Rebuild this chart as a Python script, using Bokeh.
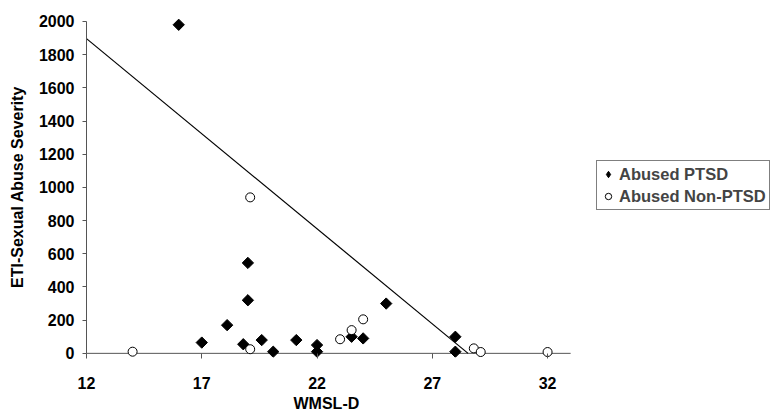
import numpy as np
from bokeh.plotting import figure
from bokeh.models import Range1d, Legend, LegendItem, FixedTicker, Title
from bokeh.embed import file_html
from bokeh.resources import INLINE

# Abused PTSD (filled diamonds)
ptsd_x = [16, 17, 18.1, 19, 19, 18.8, 19.6, 20.1, 21.1, 22, 22, 23.5, 24, 25, 28, 28]
ptsd_y = [1980, 65, 170, 545, 320, 55, 80, 10, 80, 50, 10, 100, 90, 300, 100, 10]

# Abused Non-PTSD (open circles)
non_x = [14, 19.1, 19.1, 23, 23.5, 24, 28.8, 29.1, 32]
non_y = [10, 25, 940, 85, 140, 205, 30, 8, 8]

# Linear trend line y = a + b*x (drawn down to y = 0)
trend_a = 3272.0
trend_b = -114.6

x_ticks = [12, 17, 22, 27, 32]
y_ticks = [0, 200, 400, 600, 800, 1000, 1200, 1400, 1600, 1800, 2000]
x_axis_extent = [12, 33]
y_axis_extent = [0, 2000]

FONT = "Liberation Sans"

p = figure(width=770, height=418, output_backend="svg", toolbar_location=None,
           x_range=Range1d(12, 41.67), y_range=Range1d(-25, 2030),
           min_border_left=86, min_border_right=0, min_border_top=16,
           min_border_bottom=61)
p.outline_line_color = None
p.grid.visible = False
p.background_fill_color = "white"
p.border_fill_color = "white"

for ax in (p.xaxis[0], p.yaxis[0]):
    ax.major_label_text_font = FONT
    ax.major_label_text_font_style = "bold"
    ax.major_label_text_color = "black"
    ax.major_label_text_font_size = "16px"
    ax.axis_label_text_font = FONT
    ax.axis_label_text_font_style = "bold"
    ax.axis_label_text_color = "black"
    ax.axis_label_text_font_size = "16px"
    ax.minor_tick_line_color = None
    ax.major_tick_line_color = "#555555"

p.xaxis.ticker = FixedTicker(ticks=x_ticks)
p.yaxis.ticker = FixedTicker(ticks=y_ticks)
p.xaxis.bounds = tuple(x_axis_extent)
p.yaxis.bounds = tuple(y_axis_extent)
p.yaxis.axis_line_color = "#555555"
p.yaxis.major_tick_in = 0
p.yaxis.major_tick_out = 4
# x axis sits just below the frame; its base line is drawn at y = 0
p.xaxis.axis_line_color = None
p.xaxis.major_tick_in = 4
p.xaxis.major_tick_out = 1
p.yaxis.axis_label = "ETI-Sexual Abuse Severity"
p.xaxis.major_label_standoff = 18
p.yaxis.major_label_standoff = 8
p.yaxis.axis_label_standoff = 10

# x-axis title, centred under the axis itself (not under the legend area)
p.add_layout(Title(text="WMSL-D", align="left", offset=207, standoff=2,
                   text_font=FONT, text_font_style="bold",
                   text_font_size="16px", text_color="black"), "below")

p.line(x_axis_extent, [0, 0], line_color="#555555", line_width=1)

trend_x = [x_ticks[0], -trend_a / trend_b]
trend_y = [trend_a + trend_b * v for v in trend_x]
p.line(trend_x, trend_y, line_color="black", line_width=1.2)

# legend swatch for the diamonds (legend glyphs ignore marker angle),
# drawn beneath the first diamond so it stays hidden in the plot
r1_key = p.scatter(ptsd_x[:1], ptsd_y[:1], marker="diamond", size=9,
                   fill_color="black", line_color="black")
r1 = p.scatter(ptsd_x, ptsd_y, marker="square", angle=np.pi / 4, size=8,
               fill_color="black", line_color="black")
r2 = p.scatter(non_x, non_y, marker="circle", size=9,
               fill_color="white", line_color="black", line_width=1)

legend = Legend(items=[LegendItem(label="Abused PTSD", renderers=[r1_key]),
                       LegendItem(label="Abused Non-PTSD", renderers=[r2])],
                location=(510, 147), margin=0, padding=3, spacing=2,
                glyph_width=16, glyph_height=20, label_height=20,
                label_standoff=3,
                label_text_font=FONT, label_text_font_style="bold",
                label_text_font_size="16.5px",
                border_line_color="black", border_line_width=1,
                background_fill_alpha=1.0)
p.add_layout(legend, "center")

open("out.html", "w").write(file_html(p, INLINE))
